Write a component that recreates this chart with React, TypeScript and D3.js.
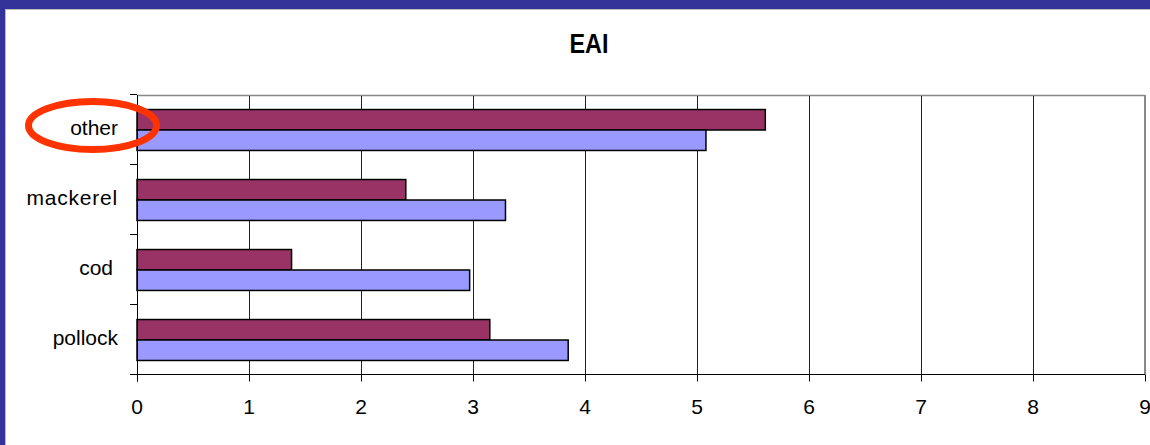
import React from "react";
import * as d3 from "d3";

// Categories listed top to bottom
const categories = ["other", "mackerel", "cod", "pollock"];
// Two series per category (upper bar, lower bar)
const seriesUpper = [5.61, 2.4, 1.38, 3.15];
const seriesLower = [5.08, 3.29, 2.97, 3.85];
const xTicks = [0, 1, 2, 3, 4, 5, 6, 7, 8, 9];
const title = "EAI";
const highlighted = "other";

const W = 1150;
const H = 445;
const plot = { left: 137, right: 1145, top: 95, bottom: 375 };
const colors = { upper: "#993366", lower: "#9999FF", frame: "#333399", ring: "#FF3300" };
const font = "'Liberation Sans', Arial, sans-serif";

export default function App() {
  const x = d3.scaleLinear().domain([0, 9]).range([plot.left, plot.right]);
  const y = d3.scaleBand<string>().domain(categories).range([plot.top, plot.bottom]);
  const sub = d3
    .scaleBand<string>()
    .domain(["upper", "lower"])
    .range([0, y.bandwidth()])
    .paddingInner(0)
    .paddingOuter(0.71);

  const rows = categories.map((c, i) => ({
    cat: c,
    upper: seriesUpper[i],
    lower: seriesLower[i],
  }));

  const axisY = plot.bottom - 0.5;
  const hl = y(highlighted)! + y.bandwidth() / 2;

  return (
    <div style={{ position: "fixed", left: 0, top: 0 }}>
      <svg width={W} height={H} style={{ display: "block", background: "#fff" }}>
        {/* slide frame */}
        <rect x={0} y={0} width={W} height={9} fill={colors.frame} />
        <rect x={0} y={0} width={5} height={H} fill={colors.frame} />
        <line x1={5} x2={W} y1={9.5} y2={9.5} stroke="#bbb" strokeWidth={1} />
        <line x1={5.5} x2={5.5} y1={9} y2={H} stroke="#bbb" strokeWidth={1} />

        <text
          x={589}
          y={53}
          textAnchor="middle"
          fontFamily={font}
          fontWeight="bold"
          fontSize={27}
          textLength={39}
          lengthAdjust="spacingAndGlyphs"
        >
          {title}
        </text>

        {/* plot border */}
        <line x1={plot.left} x2={plot.right} y1={plot.top + 0.5} y2={plot.top + 0.5} stroke="#888" strokeWidth={1.5} />
        <line x1={plot.right} x2={plot.right} y1={plot.top} y2={axisY} stroke="#888" strokeWidth={2} />

        {/* vertical gridlines */}
        {xTicks.slice(1, -1).map((t) => (
          <line key={t} x1={Math.round(x(t)) + 0.5} x2={Math.round(x(t)) + 0.5} y1={plot.top + 1} y2={axisY} stroke="#222" strokeWidth={1} />
        ))}

        {/* bars */}
        {rows.map((r) => (
          <g key={r.cat} transform={`translate(0,${y(r.cat)})`}>
            <rect
              x={x(0)}
              y={sub("upper")}
              width={x(r.upper) - x(0)}
              height={sub.bandwidth()}
              fill={colors.upper}
              stroke="#000"
              strokeWidth={1.5}
            />
            <rect
              x={x(0)}
              y={sub("lower")}
              width={x(r.lower) - x(0)}
              height={sub.bandwidth()}
              fill={colors.lower}
              stroke="#000"
              strokeWidth={1.5}
            />
          </g>
        ))}

        {/* category axis */}
        <line x1={plot.left + 0.5} x2={plot.left + 0.5} y1={plot.top} y2={axisY + 7} stroke="#000" strokeWidth={1} />
        {[plot.top, ...categories.map((c) => y(c)! + y.bandwidth())].map((v, i) => (
          <line key={i} x1={plot.left - 7} x2={plot.left} y1={Math.round(v) - 0.5} y2={Math.round(v) - 0.5} stroke="#000" strokeWidth={1} />
        ))}
        {categories.map((c) => (
          <text
            key={c}
            x={c === "cod" ? 113 : 118}
            y={y(c)! + y.bandwidth() / 2 + 5}
            textAnchor="end"
            fontFamily={font}
            fontSize={21}
            letterSpacing={c === "mackerel" ? 0.8 : 0}
            fill="#000"
          >
            {c}
          </text>
        ))}

        {/* value axis */}
        <line x1={plot.left} x2={plot.right} y1={axisY} y2={axisY} stroke="#000" strokeWidth={1} />
        {xTicks.map((t) => (
          <g key={t}>
            <line x1={Math.round(x(t)) + 0.5} x2={Math.round(x(t)) + 0.5} y1={axisY} y2={axisY + 7} stroke="#000" strokeWidth={1} />
            <text x={x(t)} y={414} textAnchor="middle" fontFamily={font} fontSize={21} fill="#000">
              {t}
            </text>
          </g>
        ))}

        {/* highlight ring */}
        <ellipse cx={92.5} cy={hl - 4.5} rx={64} ry={24} fill="none" stroke={colors.ring} strokeWidth={7} />
      </svg>
    </div>
  );
}
